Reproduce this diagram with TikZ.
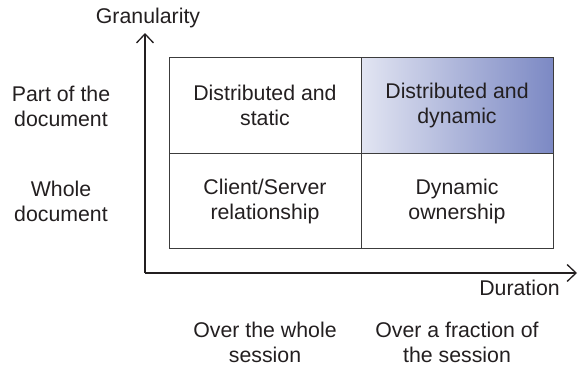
\documentclass[tikz,border=0pt]{standalone}
\usepackage{fontspec}
\setmainfont{Liberation Sans}
\usetikzlibrary{positioning}
\usetikzlibrary{arrows.meta}

\definecolor{textgray}{RGB}{35,31,32}
\definecolor{linegray}{RGB}{60,60,60}
\definecolor{cellblue}{RGB}{124,137,196}

\tikzset{
	cell/.style={draw=linegray, line width=0.9pt, minimum width=192pt,
		minimum height=95.5pt, inner sep=0pt, outer sep=0pt, align=center},
	axis/.style={draw=textgray, line width=1.3pt,
		-{Straight Barb[length=9pt,width=17pt,line width=1.3pt]}},
	lbl/.style={align=center, text=textgray, inner sep=0pt}
}

\begin{document}
\begin{tikzpicture}[x=1pt,y=-1pt,node distance=0pt,
					every node/.style={font=\fontsize{21.3}{25}\selectfont, text=textgray}]
					\useasboundingbox (0,0) rectangle (586,367);
					
					% the four quadrants
					\node[cell]         (c_11) at (265,105.5) {Distributed and\\static};
					\node[cell, left color=cellblue!22, right color=cellblue,
						middle color=cellblue!62] (c_12) [right=of c_11] {Distributed and\\dynamic};
					\node[cell]         (c_21) [below=of c_11] {Client/Server\\relationship};
					\node[cell]         (c_22) [below=of c_12] {Dynamic\\ownership};
					
					% axes
					\coordinate (O)  at (145,273);
					\coordinate (Yt) at (145,33);
					\coordinate (Xt) at (577,273);
					\draw[axis] (O) -- (Yt);
					\draw[axis] (O) -- (Xt);
					
					\node[lbl]  (gran) at (148,18)  {Granularity};
					\node[lbl, anchor=east] (dur) at (560,288) {Duration};
					
					% row labels
					\node[lbl]  (part)  at (61,106)  {Part of the\\document};
					\node[lbl]  (whole) at (61,201)  {Whole\\document};
					
					% column labels
					\node[lbl]  (whole_s) at (265,342) {Over the whole\\session};
					\node[lbl]  (frac_s)  at (457,342) {Over a fraction of\\the session};
					\end{tikzpicture}
\end{document}
